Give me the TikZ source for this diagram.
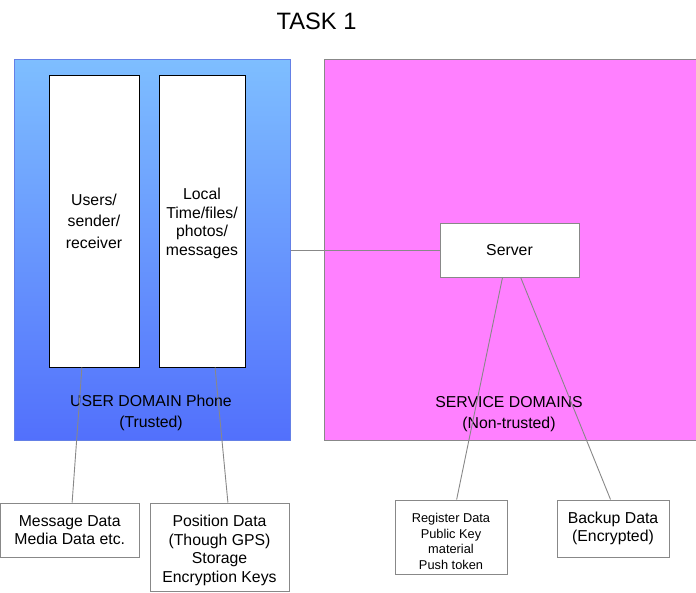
\documentclass[tikz,border=0pt]{standalone}
\usepackage{fontspec}
\setmainfont{Liberation Sans}
\usetikzlibrary{calc}
\definecolor{bluetop}{RGB}{126,190,255}
\definecolor{bluebot}{RGB}{82,112,252}
\definecolor{blueedge}{RGB}{100,128,230}
\definecolor{magfill}{RGB}{255,128,255}
\definecolor{edgegray}{RGB}{136,136,136}
\tikzset{
  box/.style={draw=black, fill=white, line width=1pt, inner sep=0pt, align=center,
    font=\fontsize{15.8}{18.7}\selectfont},
  graybox/.style={draw=edgegray, fill=white, line width=1pt, inner sep=0pt, align=center,
    font=\fontsize{15.8}{18.7}\selectfont},
  lbl/.style={inner sep=0pt, align=center, font=\fontsize{15.8}{20.5}\selectfont},
  link/.style={draw=edgegray, line width=0.9pt}
}
\begin{document}
\begin{tikzpicture}[x=1pt,y=-1pt]
\useasboundingbox (0,0) rectangle (696,592);
\node[inner sep=0pt, font=\fontsize{23.7}{26}\selectfont] (title) at (316.5,21) {TASK 1};
% domains
\node[draw=blueedge, top color=bluetop, bottom color=bluebot, line width=1pt,
  minimum width=276pt, minimum height=381pt, inner sep=0pt] (userdom) at (152,249.5) {};
\node[draw=edgegray, fill=magfill, line width=1pt,
  minimum width=372pt, minimum height=381pt, inner sep=0pt] (servdom) at (510,249.5) {};
% inner boxes
\node[box, minimum width=90pt, minimum height=292pt, font=\fontsize{15.8}{21.5}\selectfont] (users) at (94,221) {Users/\\sender/\\receiver};
\node[box, minimum width=86pt, minimum height=292pt] (local) at (202,221) {\rule{0pt}{16.5pt}Local\\Time/files/\\photos/\\messages};
\node[graybox, minimum width=139pt, minimum height=54pt] (server) at (509.5,250) {Server};
% domain labels
\node[lbl] (userlbl) at (151,413) {USER DOMAIN Phone\\(Trusted)};
\node[lbl] (servlbl) at (509,414) {SERVICE DOMAINS\\(Non-trusted)};
% bottom boxes
\node[graybox, minimum width=138.5pt, minimum height=54pt] (msg) at (69.75,530) {Message Data\\Media Data etc.};
\node[graybox, minimum width=139pt, minimum height=88pt] (pos) at (219.5,547) {\rule{0pt}{18.5pt}Position Data\\(Though GPS)\\Storage\\Encryption Keys};
\node[graybox, minimum width=112pt, minimum height=74pt, font=\fontsize{12.8}{15.5}\selectfont] (reg) at (451,537) {\rule{0pt}{18.5pt}Register Data\\Public Key\\material\\Push token};
\node[graybox, minimum width=112pt, minimum height=57pt] (backup) at (613,528.5) {Backup Data\\(Encrypted)};
% connectors
\draw[link] (server.west -| userdom.east) -- (server.west);
\draw[link] ($(users.south west)!0.367!(users.south east)$) -- ($(msg.north west)!0.517!(msg.north east)$);
\draw[link] ($(local.south west)!0.65!(local.south east)$) -- ($(pos.north west)!0.56!(pos.north east)$);
\draw[link] ($(server.south west)!0.45!(server.south east)$) -- ($(reg.north west)!0.55!(reg.north east)$);
\draw[link] ($(server.south west)!0.58!(server.south east)$) -- ($(backup.north west)!0.478!(backup.north east)$);
\end{tikzpicture}
\end{document}
